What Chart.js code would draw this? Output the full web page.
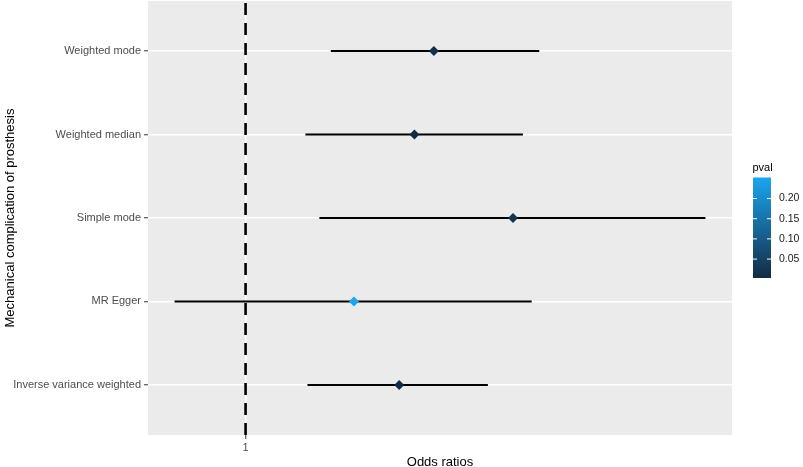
<!DOCTYPE html>
<html>
<head>
<meta charset="utf-8">
<script src="https://cdn.jsdelivr.net/npm/chart.js@4"></script>
<style>
  html, body { margin: 0; padding: 0; background: #fff; }
  canvas { display: block; }
</style>
</head>
<body>
<canvas id="forestChart" width="803" height="467"></canvas>
<script>
// Methods, bottom to top as in the plot
const categories = ['Inverse variance weighted', 'MR Egger', 'Simple mode', 'Weighted median', 'Weighted mode'];
const oddsRatio = [1.81, 1.52, 2.81, 1.92, 2.07];
const ciLower = [1.27, 0.76, 1.33, 1.26, 1.39];
const ciUpper = [2.55, 3.02, 5.91, 2.92, 3.11];
const pval = [0.0031, 0.2521, 0.021, 0.0052, 0.0134];
const xTicks = [1];
const pvalTicks = [0.05, 0.10, 0.15, 0.20];

const colors = {
  panel: '#EBEBEB',
  grid: '#FFFFFF',
  axisText: '#4D4D4D',
  tick: '#333333',
  low: [19, 43, 67],
  high: [26, 166, 240]
};
const fontFamily = "'Liberation Sans', Arial, sans-serif";

const pMin = Math.min(...pval);
const pMax = Math.max(...pval);
function pvalColor(p) {
  const t = (p - pMin) / (pMax - pMin);
  const c = colors.low.map((l, i) => Math.round(l + (colors.high[i] - l) * t));
  return 'rgb(' + c.join(',') + ')';
}

// ggplot style 5% expansion on the log axis
const logLo = Math.log10(Math.min(...ciLower));
const logHi = Math.log10(Math.max(...ciUpper));
const pad = (logHi - logLo) * 0.05;
const xMin = Math.pow(10, logLo - pad);
const xMax = Math.pow(10, logHi + pad);
const yMin = 1 - 0.6;
const yMax = categories.length + 0.6;

const ciDatasets = categories.map((c, i) => ({
  data: [{ x: ciLower[i], y: i + 1 }, { x: ciUpper[i], y: i + 1 }],
  showLine: true,
  borderColor: '#000',
  borderWidth: 2,
  pointRadius: 0,
  order: 2
}));

const panelBg = {
  id: 'panelBg',
  beforeDraw(chart) {
    const { ctx, chartArea: a } = chart;
    ctx.save();
    ctx.fillStyle = colors.panel;
    ctx.fillRect(a.left, a.top, a.right - a.left, a.bottom - a.top);
    ctx.restore();
  }
};

// colourbar legend for pval
const colorBar = {
  id: 'colorBar',
  afterDraw(chart) {
    const ctx = chart.ctx;
    const x0 = 753, w = 18, top = 177.5, bottom = 278;
    ctx.save();
    ctx.font = '11px ' + fontFamily;
    ctx.fillStyle = '#000';
    ctx.textBaseline = 'alphabetic';
    ctx.fillText('pval', 752.5, 170.5);
    const g = ctx.createLinearGradient(0, bottom, 0, top);
    g.addColorStop(0, pvalColor(pMin));
    g.addColorStop(1, pvalColor(pMax));
    ctx.fillStyle = g;
    ctx.fillRect(x0, top, w, bottom - top);
    ctx.font = '10.5px ' + fontFamily;
    ctx.textBaseline = 'middle';
    pvalTicks.forEach(v => {
      const y = bottom - (v - pMin) / (pMax - pMin) * (bottom - top);
      ctx.strokeStyle = '#fff';
      ctx.lineWidth = 1;
      ctx.beginPath();
      ctx.moveTo(x0, y); ctx.lineTo(x0 + 4, y);
      ctx.moveTo(x0 + w - 4, y); ctx.lineTo(x0 + w, y);
      ctx.stroke();
      ctx.fillStyle = '#1A1A1A';
      ctx.fillText(v.toFixed(2), 779, y);
    });
    ctx.restore();
  }
};

new Chart(document.getElementById('forestChart'), {
  type: 'scatter',
  data: {
    datasets: [
      {
        data: categories.map((c, i) => ({ x: oddsRatio[i], y: i + 1 })),
        pointStyle: 'rectRot',
        pointRadius: 5,
        pointBackgroundColor: pval.map(pvalColor),
        pointBorderWidth: 0,
        order: 0
      },
      {
        data: [{ x: 1, y: yMin }, { x: 1, y: yMax }],
        showLine: true,
        borderColor: '#000',
        borderWidth: 2.6,
        borderDash: [12, 8],
        pointRadius: 0,
        order: 1
      },
      ...ciDatasets
    ]
  },
  options: {
    responsive: false,
    animation: false,
    layout: { autoPadding: false, padding: { left: 0, right: 71, top: 1, bottom: 0 } },
    plugins: {
      legend: { display: false },
      tooltip: { enabled: false }
    },
    scales: {
      x: {
        type: 'logarithmic',
        min: xMin,
        max: xMax,
        afterBuildTicks: scale => { scale.ticks = xTicks.map(v => ({ value: v })); },
        afterFit: scale => { scale.height = 32; scale.paddingLeft = 0; scale.paddingRight = 0; },
        border: { display: false },
        grid: { color: colors.grid, lineWidth: 1.5, tickColor: colors.tick, tickLength: 4, tickWidth: 1 },
        ticks: {
          color: colors.axisText,
          font: { family: fontFamily, size: 11 },
          padding: 2,
          maxRotation: 0,
          callback: v => String(v)
        },
        title: {
          display: true,
          text: 'Odds ratios',
          color: '#000',
          font: { family: fontFamily, size: 13, lineHeight: 1 },
          padding: { top: 0, bottom: -1.5 }
        }
      },
      y: {
        type: 'linear',
        min: yMin,
        max: yMax,
        afterBuildTicks: scale => { scale.ticks = categories.map((c, i) => ({ value: i + 1 })); },
        afterFit: scale => { scale.width = 148; scale.paddingTop = 0; scale.paddingBottom = 0; },
        border: { display: false },
        grid: { color: colors.grid, lineWidth: 1.5, tickColor: colors.tick, tickLength: 4, tickWidth: 1 },
        ticks: {
          color: colors.axisText,
          font: { family: fontFamily, size: 11 },
          padding: 3,
          callback: v => categories[v - 1]
        },
        title: {
          display: true,
          text: 'Mechanical complication of prosthesis',
          color: '#000',
          font: { family: fontFamily, size: 13, lineHeight: 1 },
          padding: { top: 3.5, bottom: 0 }
        }
      }
    }
  },
  plugins: [panelBg, colorBar]
});
</script>
</body>
</html>
